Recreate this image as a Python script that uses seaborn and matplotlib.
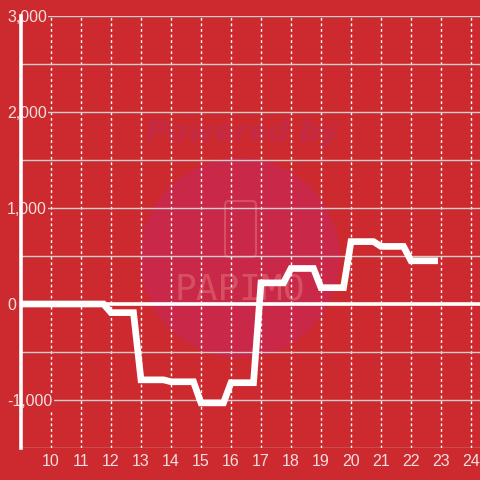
import matplotlib
matplotlib.use("Agg")
import matplotlib.pyplot as plt
import matplotlib.ticker as mticker
from matplotlib.patches import Circle, FancyBboxPatch
from matplotlib.transforms import IdentityTransform
import seaborn as sns
import pandas as pd

# ---- data ----
hours = [9, 11.75, 12, 12.75, 13, 13.75, 14, 14.75, 15, 15.75, 16, 16.75,
         17, 17.75, 18, 18.75, 19, 19.75, 20, 20.75, 21, 21.75, 22, 22.9]
balance = [0, 0, -90, -90, -790, -790, -810, -810, -1030, -1030, -820, -820,
           220, 220, 370, 370, 170, 170, 650, 650, 600, 600, 450, 450]
x_ticks = list(range(10, 25))
y_ticks = [-1000, 0, 1000, 2000, 3000]

BG = "#cd2a2f"
LABEL = "#f3dede"

sns.set_theme(style="white")
plt.rcParams['font.family'] = ['Liberation Sans', 'DejaVu Sans']

fig = plt.figure(figsize=(4.8, 4.8), dpi=100, facecolor=BG)
ax = fig.add_axes([21/480, 32/480, 459/480, 432/480])
ax.set_facecolor(BG)

# watermark (behind grid)
ax.add_patch(Circle((240, 480-258), 100, transform=IdentityTransform(),
                    facecolor="#c92849", edgecolor="none", zorder=0))
ax.text(242/480, 1-133/480, "Powered by", transform=fig.transFigure,
        ha="center", va="center", fontsize=21, fontweight="bold", style="italic",
        color="#c42a44", family="DejaVu Sans", zorder=0.5)
ax.text(240/480, 1-289/480, "PAPIMO", transform=fig.transFigure,
        ha="center", va="center", fontsize=26, color="#d65062",
        family="DejaVu Sans Mono", zorder=0.5)
ax.add_patch(FancyBboxPatch((225, 480-257), 31, 56, transform=IdentityTransform(),
                            boxstyle="round,pad=0,rounding_size=4",
                            facecolor="none", edgecolor="#d65062", lw=1.5, zorder=0.5))

df = pd.DataFrame({"hour": hours, "balance": balance})
sns.lineplot(data=df, x="hour", y="balance", ax=ax, color="white", lw=4.8,
             zorder=5, solid_joinstyle="miter", solid_capstyle="butt")

ax.set_xlim(9, 24.3)
ax.set_ylim(-1500, 3000)
ax.set_xticks(x_ticks)
ax.set_yticks(y_ticks)
ax.set_yticks([-1500, -500, 500, 1500, 2500], minor=True)
ax.yaxis.set_major_formatter(mticker.FuncFormatter(lambda v, p: f"{v:,.0f}"))
ax.set_xlabel("")
ax.set_ylabel("")

ax.grid(True, axis="y", which="both", color="#cfcfcf", lw=1, zorder=1)
ax.grid(True, axis="x", which="major", color="white", lw=1, ls=(0, (2, 2)), zorder=1)
ax.axhline(0, color="white", lw=2.6, zorder=3)

for s in ["top", "right", "bottom"]:
    ax.spines[s].set_visible(False)
ax.spines["left"].set_color("white")
ax.spines["left"].set_linewidth(2.6)
ax.spines["left"].set_zorder(4)

ax.tick_params(axis="both", which="both", length=0, labelsize=11.5, labelcolor=LABEL)
ax.tick_params(axis="x", pad=4)
ax.tick_params(axis="y", pad=10)
for lab in ax.get_yticklabels():
    lab.set_horizontalalignment("left")
    lab.set_bbox(dict(facecolor=BG, edgecolor="none", pad=1))
    lab.set_zorder(10)

fig.savefig("out.png", dpi=100, facecolor=BG)
